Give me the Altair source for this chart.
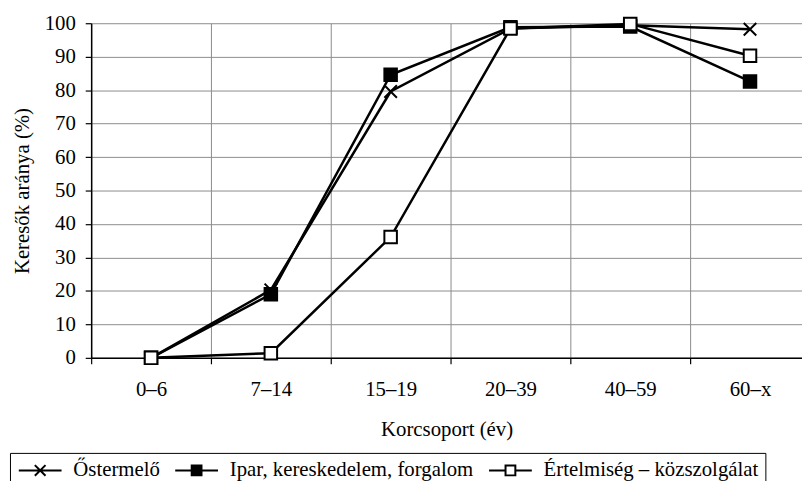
import altair as alt
import pandas as pd

categories = ["0–6", "7–14", "15–19", "20–39", "40–59", "60–x"]
series_names = ["Őstermelő", "Ipar, kereskedelem, forgalom", "Értelmiség – közszolgálat"]
ostermelo = [0.0, 20.3, 79.6, 98.4, 99.4, 98.2]
ipar = [0.0, 19.0, 84.6, 98.8, 99.0, 82.6]
ertelmiseg = [0.0, 1.4, 36.1, 98.4, 99.8, 90.3]
y_ticks = [0, 10, 20, 30, 40, 50, 60, 70, 80, 90, 100]

rows = []
for name, vals in zip(series_names, [ostermelo, ipar, ertelmiseg]):
    for i, (c, v) in enumerate(zip(categories, vals)):
        rows.append({"series": name, "idx": i, "cat": c, "value": v})
df = pd.DataFrame(rows)

FONT = "Liberation Serif"
FS = 21
x_vals = [i * 0.5 - 0.5 for i in range(12)]
cat_js = "[" + ",".join("'" + c + "'" for c in categories) + "]"
half = "datum.value % 1 != 0"

x_enc = alt.X(
    "idx:Q",
    scale=alt.Scale(domain=[-0.5, 5.434], nice=False, zero=False),
    axis=alt.Axis(
        values=x_vals,
        labelExpr=f"datum.value % 1 == 0 ? {cat_js}[datum.value] : ''",
        tickOpacity={"condition": {"test": half, "value": 1}, "value": 0},
        gridOpacity={"condition": {"test": half, "value": 1}, "value": 0},
        labelOverlap=False,
        labelFlush=False,
        tickSize=6,
        tickColor="black",
        tickWidth=1.2,
        labelPadding=15,
        titlePadding=19,
        domainColor="black",
        domainWidth=1.5,
        labelFont=FONT, labelFontSize=FS, labelColor="black",
        titleFont=FONT, titleFontSize=FS, titleFontWeight="normal", titleColor="black",
    ),
    title="Korcsoport (év)",
)
y_enc = alt.Y(
    "value:Q",
    scale=alt.Scale(domain=[0, 100], nice=False),
    axis=alt.Axis(
        values=y_ticks,
        tickSize=6,
        tickColor="black",
        tickWidth=1.2,
        labelPadding=10,
        titlePadding=12,
        domainColor="black",
        domainWidth=1.5,
        labelFont=FONT, labelFontSize=FS, labelColor="black",
        titleFont=FONT, titleFontSize=FS, titleFontWeight="normal", titleColor="black",
    ),
    title="Keresők aránya (%)",
)

xpath = "M-1,-1L1,1M-1,1L1,-1"
lines = alt.Chart(df).mark_line(color="black", strokeWidth=2.5).encode(
    x=x_enc, y=y_enc, detail="series:N"
)

markers = alt.Chart(df).mark_point(stroke="black", strokeWidth=2, opacity=1, size=160).encode(
    x=x_enc,
    y=y_enc,
    shape=alt.Shape("series:N", scale=alt.Scale(domain=series_names, range=[xpath, "square", "square"]), legend=None),
    fill=alt.Fill("series:N", scale=alt.Scale(domain=series_names, range=["transparent", "black", "white"]), legend=None),
)

leg = alt.Legend(
    title=None,
    orient="none",
    legendX=-82,
    legendY=434,
    direction="horizontal",
    strokeColor="black",
    fillColor="white",
    padding=7,
    columnPadding=10,
    labelFont=FONT,
    labelFontSize=FS,
    labelColor="black",
    labelLimit=500,
    labelOffset=23,
    symbolOffset=13,
    symbolSize=324,
    symbolStrokeWidth=2,
    symbolStrokeColor="black",
    symbolFillColor="transparent",
    symbolOpacity=1,
)
sq = 0.55
fill_lines = "".join(f"M-{sq},{y:.2f}H{sq}" for y in [-0.35, -0.15, 0.05, 0.25, 0.45])
lpaths = [
    "M-2.4,0H2.4M-0.6,-0.6L0.6,0.6M-0.6,0.6L0.6,-0.6",
    f"M-2.4,0H2.4M-{sq},-{sq}H{sq}V{sq}H-{sq}Z" + fill_lines,
    f"M-2.4,0H-{sq}M{sq},0H2.4M-{sq},-{sq}H{sq}V{sq}H-{sq}Z",
]
legend_layer = alt.Chart(df).transform_filter("false").mark_point(
    stroke="black", strokeWidth=2, opacity=1, filled=False
).encode(
    x=x_enc,
    y=y_enc,
    shape=alt.Shape("series:N", scale=alt.Scale(domain=series_names, range=lpaths), legend=leg),
)

chart = (
    alt.layer(lines, markers, legend_layer)
    .resolve_scale(shape="independent", fill="independent")
    .properties(
        width=718,
        height=338,
        autosize=alt.AutoSizeParams(type="none"),
        padding={"left": 84, "top": 13, "right": 0, "bottom": 122},
        background="white",
    )
    .configure_view(stroke=None)
    .configure_axis(gridColor="#8c8c8c", gridWidth=1)
)

chart.save("out.html", embed_options={"renderer": "svg", "actions": False})
